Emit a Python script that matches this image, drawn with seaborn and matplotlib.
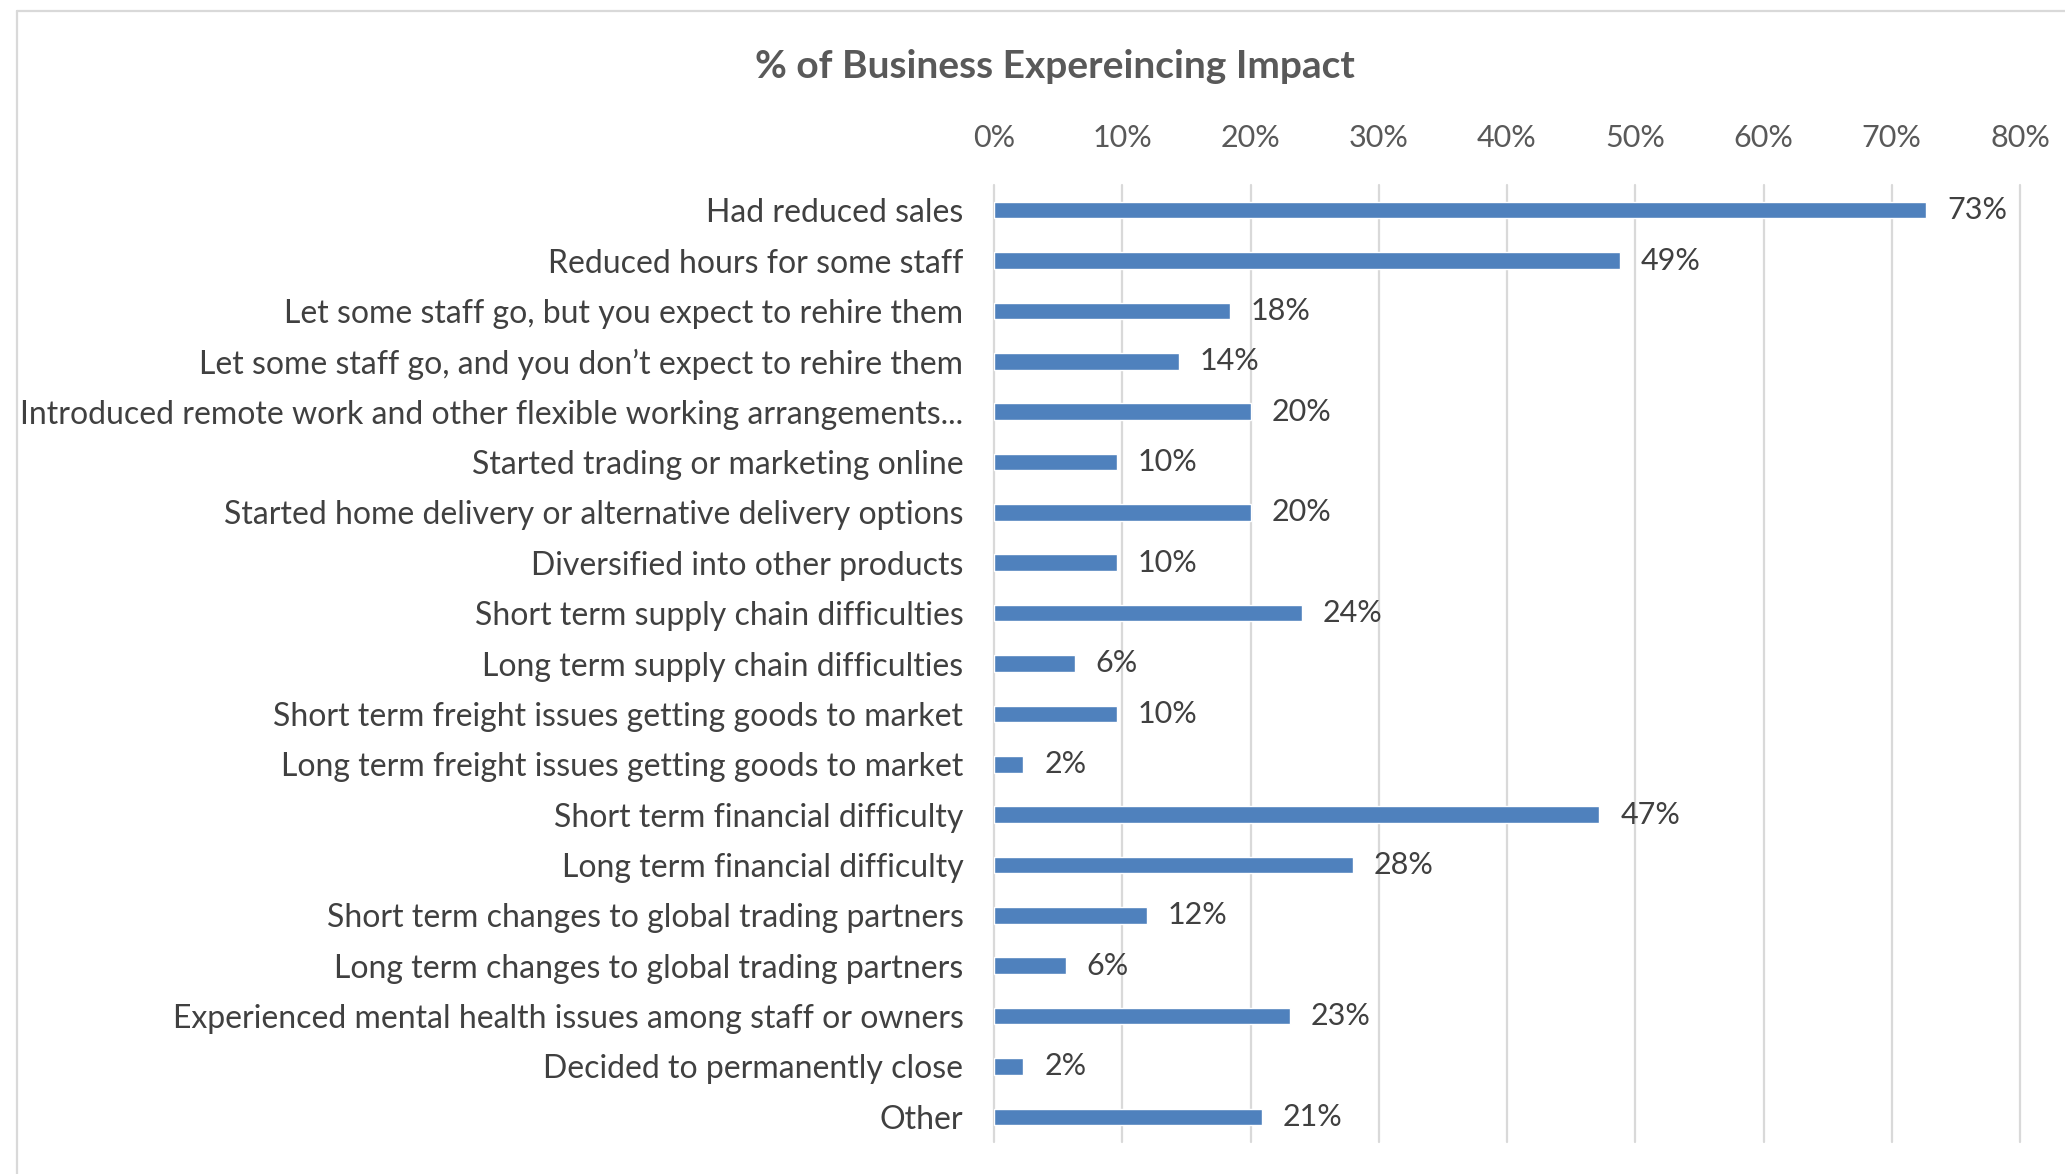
import matplotlib
matplotlib.use("Agg")
import matplotlib.pyplot as plt
import seaborn as sns
import pandas as pd
from matplotlib.lines import Line2D

# data
categories = [
    "Had reduced sales",
    "Reduced hours for some staff",
    "Let some staff go, but you expect to rehire them",
    "Let some staff go, and you don\u2019t expect to rehire them",
    "Introduced remote work and other flexible working arrangements...",
    "Started trading or marketing online",
    "Started home delivery or alternative delivery options",
    "Diversified into other products",
    "Short term supply chain difficulties",
    "Long term supply chain difficulties",
    "Short term freight issues getting goods to market",
    "Long term freight issues getting goods to market",
    "Short term financial difficulty",
    "Long term financial difficulty",
    "Short term changes to global trading partners",
    "Long term changes to global trading partners",
    "Experienced mental health issues among staff or owners",
    "Decided to permanently close",
    "Other",
]
pct_values = [72.7, 48.8, 18.4, 14.4, 20.0, 9.6, 20.0, 9.6, 24.0, 6.3,
              9.6, 2.3, 47.2, 28.0, 11.9, 5.6, 23.1, 2.3, 20.9]
x_ticks = [0, 10, 20, 30, 40, 50, 60, 70, 80]
title = "% of Business Expereincing Impact"

df = pd.DataFrame({"impact": categories, "pct": pct_values})

sns.set_style("white")
plt.rcParams["font.family"] = ["Lato", "DejaVu Sans"]

fig = plt.figure(figsize=(20.65, 11.74), dpi=100)
ax = fig.add_axes([994 / 2065, 1 - 1142 / 1174, (2020 - 994) / 2065, (1142 - 185) / 1174])

sns.barplot(data=df, x="pct", y="impact", orient="h", color="#4f81bd",
            saturation=1, width=0.33, ax=ax)

ax.set_xlim(0, 80)
ax.set_xticks(x_ticks)
ax.set_xticklabels([f"{t}%" for t in x_ticks])
ax.xaxis.tick_top()
ax.tick_params(axis="x", length=0, pad=24, labelsize=22, labelcolor="#595959")
ax.tick_params(axis="y", length=0, pad=22, labelsize=23, labelcolor="#404040")
ax.set_xlabel("")
ax.set_ylabel("")
for s in ax.spines.values():
    s.set_visible(False)
ax.grid(axis="x", color="#d9d9d9", lw=1.6)
ax.set_axisbelow(True)
for gl in ax.get_xgridlines():
    gl.set_clip_on(False)

ax.bar_label(ax.containers[0], labels=[f"{v:.0f}%" for v in pct_values],
             padding=15, fontsize=22, color="#404040")

fig.text(1055 / 2065, 1 - 66 / 1174, title, ha="center", va="center",
         fontsize=28, fontweight="bold", color="#595959")

# chart area border (only left and top edges are visible in the crop)
fig.add_artist(Line2D([17 / 2065, 17 / 2065], [0, 1 - 11 / 1174],
                      transform=fig.transFigure, color="#d9d9d9", lw=1.6))
fig.add_artist(Line2D([17 / 2065, 1], [1 - 11 / 1174, 1 - 11 / 1174],
                      transform=fig.transFigure, color="#d9d9d9", lw=1.6))

fig.savefig("out.png", dpi=100)
